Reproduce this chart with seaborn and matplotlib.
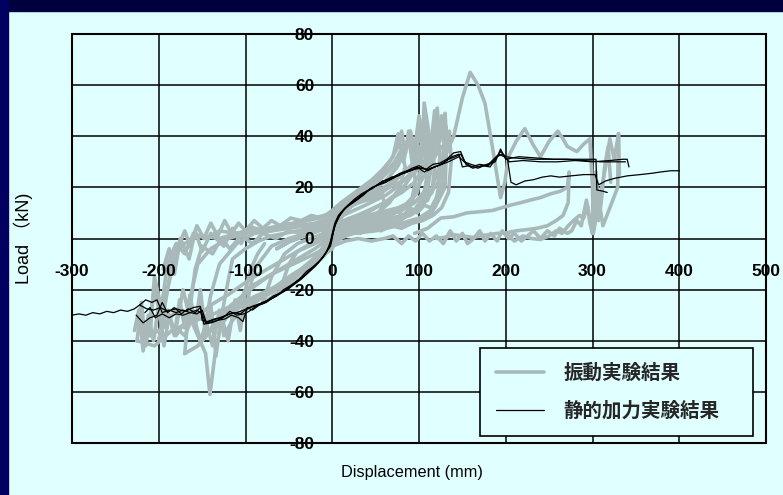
import numpy as np
import pandas as pd
import seaborn as sns
import matplotlib.pyplot as plt
from matplotlib.patches import Rectangle
from matplotlib.lines import Line2D

# tick values and labels
x_ticks = [-300, -200, -100, 0, 100, 200, 300, 400, 500]
y_ticks = [-80, -60, -40, -20, 0, 20, 40, 60, 80]
legend_labels = ['振動実験結果', '静的加力実験結果']

# vibration test loops (displacement mm, load kN)
vib_a = [(-60, -20), (-50, -10), (-40, -5), (-20, -2), (0, 2), (10, 8), (20, 12), (30, 15), (40, 17),
         (55, 20), (60, 14), (50, 8), (30, 4), (10, 2), (0, -1), (-10, -5), (-20, -10), (-35, -15),
         (-50, -19), (-60, -20)]
vib_b = [(-100, -28), (-90, -12), (-70, -3), (-50, 0), (-30, 2), (-10, 4), (0, 6), (10, 10), (20, 13),
         (40, 17), (60, 20), (80, 25), (95, 30), (100, 36), (104, 28), (98, 18), (85, 12), (60, 8),
         (40, 6), (20, 4), (5, 1), (0, -2), (-10, -7), (-25, -11), (-45, -15), (-65, -20), (-85, -24),
         (-100, -28)]
vib_c = [(-150, -40), (-140, -22), (-130, -10), (-110, -2), (-90, 2), (-70, 3), (-50, 4), (-30, 5),
         (-10, 6), (0, 7), (10, 12), (25, 16), (40, 19), (55, 23), (70, 28), (85, 36), (90, 42), (95, 30),
         (100, 46), (105, 33), (112, 38), (118, 28), (115, 18), (100, 12), (80, 9), (60, 7), (40, 6),
         (20, 4), (5, 2), (0, -3), (-15, -8), (-35, -13), (-60, -18), (-85, -22), (-110, -26),
         (-130, -30), (-145, -38), (-150, -40)]
vib_d = [(-170, -45), (-165, -25), (-155, -10), (-140, -4), (-120, 0), (-100, 2), (-80, 3), (-60, 4),
         (-40, 5), (-20, 6), (0, 8), (15, 12), (30, 14), (50, 16), (65, 20), (80, 25), (92, 28),
         (100, 32), (108, 45), (113, 34), (118, 50), (122, 36), (126, 48), (130, 35), (128, 22),
         (115, 10), (95, 7), (75, 5), (50, 3), (25, 2), (5, 0), (0, -4), (-20, -9), (-45, -14),
         (-70, -20), (-95, -24), (-120, -30), (-140, -36), (-155, -42), (-170, -45)]
vib_e = [(-200, -40), (-190, -20), (-180, -5), (-170, -2), (-160, 0), (-150, 1), (-130, 0), (-110, 2),
         (-90, 3), (-60, 5), (-30, 7), (0, 9), (20, 14), (40, 18), (60, 22), (75, 28), (85, 35),
         (88, 42), (95, 30), (100, 40), (110, 32), (120, 45), (125, 30), (110, 15), (90, 10), (70, 8),
         (45, 6), (20, 4), (0, 1), (-20, -4), (-40, -8), (-60, -12), (-80, -16), (-100, -20),
         (-115, -30), (-125, -28), (-135, -45), (-141, -61), (-146, -45), (-155, -38), (-165, -30),
         (-180, -38), (-190, -28), (-200, -40)]
vib_f = [(-210, -38), (-205, -15), (-195, -30), (-185, -10), (-175, 0), (-165, -8), (-158, 3),
         (-150, -5), (-140, 2), (-125, -3), (-115, 4), (-105, -2), (-95, 5), (-80, 2), (-60, 5),
         (-40, 6), (-20, 8), (0, 10), (15, 15), (30, 18), (45, 22), (60, 27), (70, 32), (76, 41),
         (82, 30), (90, 42), (95, 35), (100, 48), (104, 38), (106, 53), (112, 40), (118, 35),
         (110, 20), (95, 14), (80, 11), (60, 9), (40, 7), (20, 5), (0, 3), (-20, -1), (-45, -6),
         (-70, -11), (-95, -16), (-120, -22), (-140, -26), (-160, -32), (-180, -28), (-195, -35),
         (-210, -38)]
vib_g = [(-225, -40), (-220, -25), (-215, -42), (-205, -20), (-198, -30), (-190, -10), (-180, -2),
         (-170, -6), (-160, 2), (-145, 0), (-130, 3), (-110, 2), (-90, 4), (-70, 3), (-50, 5),
         (-25, 5), (0, 5), (20, 8), (40, 10), (60, 14), (80, 18), (95, 22), (105, 28), (115, 33),
         (121, 51), (124, 38), (127, 45), (130, 35), (130, 49), (132, 38), (130, 20), (118, 12),
         (100, 8), (80, 6), (60, 5), (40, 4), (20, 2), (0, -2), (-20, -6), (-45, -10), (-70, -14),
         (-95, -20), (-120, -27), (-140, -30), (-165, -33), (-185, -36), (-205, -42), (-225, -40)]
vib_h = [(95, 18), (105, 24), (115, 30), (125, 36), (132, 34), (140, 40), (150, 55), (159, 65),
         (168, 60), (176, 53), (185, 35), (194, 16), (199, 22), (203, 32), (212, 38), (222, 43),
         (231, 37), (240, 32), (250, 38), (260, 42), (266, 39), (271, 36), (282, 34), (290, 37),
         (297, 39), (300, 20), (301, 2), (305, 10), (309, 17), (315, 28), (320, 39), (325, 31),
         (330, 41), (331, 25)]
vib_i = [(330, 41), (329, 20), (320, 12), (312, 5), (305, 20), (300, 2), (293, 15), (287, 5), (282, 7),
         (276, 3), (271, 2), (262, 4), (256, 1), (248, 3), (240, 0), (232, 3), (225, 1), (218, -1),
         (210, 2), (203, 0), (196, 3), (190, -1), (183, 2), (176, -1), (170, 3), (163, 0), (156, -2),
         (150, 2), (143, -1), (136, 3), (128, -2), (120, 1), (112, -1), (104, 2), (96, -1), (88, 1),
         (80, -2), (70, 1), (60, 0), (45, -1), (30, 0), (15, -1), (0, -3), (-15, -8), (-30, -12)]
vib_j = [(95, 2), (110, 4), (125, 8), (140, 8.5), (155, 10), (171, 10.5), (185, 11), (195, 12),
         (205, 13), (217, 14), (228, 15), (240, 16), (252, 17.5), (263, 18.5), (271, 20), (273, 26),
         (272, 14), (266, 9), (258, 7), (248, 5), (236, 4), (225, 3.5), (212, 3), (202, 2.3),
         (190, 2), (180, 1.5), (170, 1), (163, 0.4), (150, 1), (140, 1.5), (130, 0.5), (120, 0)]
vib_k = [(200, 2), (210, -1), (220, 1), (230, 0), (240, -0.4), (250, 1), (258, 3), (265, 2), (272, 5),
         (278, 7), (285, 9), (290, 8), (294, 13), (297, 6), (300, 2), (301, 18), (304, 26), (307, 7),
         (310, 14), (314, 28), (318, 36), (321, 22)]
vib_l = [(-180, -35), (-172, -20), (-165, -30), (-158, -12), (-150, -3), (-138, -6), (-128, 0),
         (-118, -4), (-105, 1), (-92, -2), (-80, 2), (-65, 0), (-50, 3), (-35, 2), (-20, 4), (-8, 3),
         (0, 5), (12, 9), (25, 11), (38, 13), (50, 15), (62, 17), (74, 20), (86, 24), (96, 28),
         (104, 33), (108, 40), (112, 30), (110, 18), (102, 12), (90, 9), (75, 8), (60, 6), (45, 5),
         (30, 3), (15, 1), (0, -1), (-12, -6), (-26, -10), (-40, -14), (-55, -17), (-70, -21),
         (-85, -24), (-100, -27), (-115, -32), (-125, -38), (-130, -28), (-138, -42), (-145, -33),
         (-152, -40), (-160, -30), (-170, -38), (-180, -35)]
vib_m = [(-130, -35), (-122, -20), (-115, -8), (-100, -4), (-85, -1), (-70, 1), (-55, 2), (-40, 3),
         (-25, 4), (-10, 4), (0, 5), (10, 6), (22, 8), (35, 10), (48, 12), (60, 14), (72, 17), (82, 20),
         (92, 25), (100, 28), (106, 35), (110, 26), (105, 16), (92, 10), (78, 7), (62, 5), (46, 4),
         (30, 3), (14, 2), (0, 0), (-10, -4), (-22, -8), (-36, -12), (-50, -15), (-66, -19),
         (-82, -22), (-98, -25), (-112, -28), (-122, -31), (-130, -35)]
vib_n = [(-80, -25), (-70, -15), (-55, -6), (-40, -2), (-25, 0), (-10, 2), (0, 4), (8, 9), (18, 13),
         (28, 17), (38, 20), (50, 23), (62, 26), (72, 30), (80, 35), (84, 28), (78, 20), (66, 14),
         (52, 10), (38, 7), (24, 5), (10, 3), (0, 1), (-10, -3), (-20, -8), (-32, -12), (-45, -16),
         (-58, -20), (-70, -23), (-80, -25)]
vib_o = [(-195, -12), (-188, -4), (-182, -14), (-176, -2), (-170, 3), (-164, -3), (-156, 5), (-148, 0),
         (-140, 6), (-132, 1), (-124, 7), (-116, 2), (-108, 6), (-100, 3), (-90, 7), (-80, 4), (-70, 7),
         (-60, 5), (-48, 8), (-36, 7), (-24, 9), (-12, 8), (0, 11), (10, 14), (22, 17), (34, 20),
         (46, 23), (58, 27), (68, 31), (76, 36), (80, 42), (84, 33), (88, 40), (92, 30), (96, 22),
         (92, 16), (84, 13), (70, 11), (55, 9), (40, 8), (25, 7), (10, 5), (0, 4)]
vib_p = [(-228, -36), (-223, -28), (-218, -44), (-212, -30), (-206, -40), (-200, -26), (-194, -42),
         (-188, -30), (-182, -38), (-176, -24), (-170, -35), (-164, -22), (-158, -34), (-152, -20),
         (-146, -38), (-140, -26), (-134, -46), (-128, -30), (-120, -40), (-112, -24), (-106, -36),
         (-100, -20), (-94, -12), (-86, -6), (-78, -2)]
vib_q = [(0, 3), (10, 5), (18, 4), (26, 7), (34, 6), (42, 8), (50, 7), (58, 10), (66, 8), (74, 11),
         (82, 9), (90, 12), (98, 10), (106, 13), (114, 12), (120, 16), (124, 22), (127, 30), (129, 38),
         (131, 44), (133, 34), (135, 42), (137, 30), (134, 18), (126, 12), (116, 9), (104, 7), (92, 6),
         (80, 4), (68, 5), (56, 3), (44, 4), (32, 2), (20, 3), (8, 1), (0, 0)]
vib_r = [(-64, -4), (-48, -1), (-32, 1), (-16, 3), (0, 6), (12, 10), (24, 13), (36, 15), (48, 17),
         (60, 19), (72, 21), (84, 23), (96, 26), (106, 30), (112, 36), (116, 28), (120, 40), (124, 32),
         (122, 22), (112, 17), (100, 15), (88, 14), (76, 12), (64, 11), (52, 10), (40, 9), (28, 8),
         (16, 7), (0, 5), (-16, 3), (-32, 1), (-48, -1), (-64, -4)]

# static loading test curves
sta_a = [(-300, -30), (-292, -29.5), (-284, -30), (-276, -29), (-268, -29.5), (-260, -28.5), (-252, -29),
         (-244, -28), (-236, -28.5), (-228, -27.5), (-222, -26), (-214, -27.5), (-206, -28), (-198, -27),
         (-190, -28.5), (-180, -27.5), (-170, -28.5), (-160, -27), (-152, -26.5), (-150, -32),
         (-144, -32.5), (-136, -31.5), (-128, -31), (-118, -29.5), (-110, -29), (-102, -28), (-96, -27),
         (-88, -26.5), (-80, -25), (-70, -23.5), (-62, -22), (-52, -20), (-44, -18), (-36, -16),
         (-28, -13.5), (-20, -11), (-12, -8), (-6, -5), (-2, -3), (0, 0), (2, 4), (5, 7), (10, 10),
         (16, 12), (22, 14), (30, 16), (38, 18), (46, 20), (54, 21), (62, 22), (70, 23.5), (78, 25),
         (86, 26), (94, 27), (102, 27.5), (110, 27), (118, 28), (126, 29), (134, 30), (140, 31),
         (146, 32), (152, 30), (160, 29), (170, 28), (180, 29), (186, 31), (192, 33), (198, 32),
         (202, 31), (206, 22), (212, 21), (222, 22.5), (232, 23), (242, 24), (252, 24.5), (262, 24),
         (275, 24.5), (290, 25), (303, 25), (307, 21), (315, 22.5), (325, 23.5), (340, 24.5),
         (355, 25), (368, 25.5), (378, 26), (390, 26.5), (400, 26.5)]
sta_b = [(-226, -30), (-218, -33), (-210, -31), (-202, -30), (-196, -25), (-190, -29), (-182, -27),
         (-174, -29.5), (-166, -27.5), (-158, -29), (-152, -27), (-148, -33.5), (-140, -33),
         (-132, -32), (-124, -31.5), (-116, -30), (-108, -31), (-103, -32.5), (-98, -27), (-92, -28),
         (-84, -26), (-76, -25), (-68, -23), (-60, -21.5), (-50, -19.5), (-42, -17), (-34, -15),
         (-26, -12.5), (-18, -10), (-10, -7), (-5, -4), (-2, -1), (0, 2), (3, 6), (7, 9), (12, 11),
         (18, 13), (26, 15.5), (34, 17.5), (42, 19), (50, 20.5), (58, 22.5), (66, 23), (74, 24.5),
         (82, 25.5), (90, 26.5), (98, 28), (106, 26), (114, 27.5), (122, 28.5), (130, 30), (138, 32),
         (146, 33), (150, 28), (158, 28.5), (168, 27.5), (178, 29), (188, 30), (194, 35), (200, 31),
         (215, 32), (235, 31.5), (255, 31), (275, 31), (295, 31), (304, 31), (305, 19), (312, 18.5),
         (317, 18)]
sta_c = [(-222, -26), (-215, -24), (-208, -25), (-202, -24), (-196, -29), (-188, -28), (-180, -29),
         (-172, -28), (-164, -29), (-156, -28), (-150, -29.5), (-146, -33), (-138, -32), (-130, -31),
         (-122, -30), (-114, -29), (-106, -29.5), (-100, -28), (-92, -26.5), (-84, -25.5),
         (-76, -24.5), (-68, -22.5), (-58, -21), (-48, -18.5), (-40, -16.5), (-32, -14.5), (-24, -12),
         (-16, -9.5), (-8, -6), (-3, -3), (0, 1), (3, 5), (8, 8.5), (14, 11.5), (20, 13.5), (28, 15),
         (36, 17), (44, 19.5), (52, 21), (60, 22), (68, 24), (76, 24.5), (84, 26), (92, 27.5),
         (100, 28.5), (108, 27), (116, 29), (124, 29.5), (132, 31), (140, 33.5), (148, 34), (154, 29),
         (162, 27.5), (172, 28.5), (182, 28), (190, 32), (196, 33), (204, 30), (220, 30.5), (240, 30),
         (260, 30), (280, 30.5), (300, 30), (320, 30.5), (335, 31), (340, 31), (342, 28)]
sta_d = [(-216, -29), (-210, -27), (-204, -31), (-196, -29.5), (-188, -31), (-180, -29.5), (-172, -30),
         (-164, -29), (-156, -29.5), (-150, -28), (-145, -33), (-136, -32.5), (-126, -31),
         (-118, -28.5), (-110, -30), (-102, -29.5), (-96, -28.5), (-88, -26.5), (-80, -25.5),
         (-72, -24), (-64, -22.5), (-56, -20), (-46, -18), (-38, -16), (-30, -13), (-22, -11),
         (-14, -8.5), (-7, -5.5), (-2, -2), (0, 1), (4, 6), (9, 9.5), (15, 12), (22, 13.5), (30, 15.5),
         (38, 18), (46, 19.5), (54, 21.5), (62, 23), (70, 24), (78, 25.5), (86, 26.5), (94, 27),
         (102, 28), (110, 26.5), (118, 28), (126, 29), (134, 31), (142, 32), (148, 33), (153, 30),
         (160, 28), (170, 29), (180, 28.5), (188, 31), (194, 34), (200, 32), (210, 31.5), (230, 31),
         (250, 31), (270, 31), (290, 30.5), (310, 30), (325, 30), (338, 30)]

GRAY = '#a9b9b9'
CYAN = '#e0ffff'
NAVY = '#00003f'


def to_frame(runs):
    parts = []
    for i, pts in enumerate(runs):
        d = pd.DataFrame(pts, columns=['disp', 'load'])
        d['run'] = i
        parts.append(d)
    return pd.concat(parts, ignore_index=True)


vib = to_frame([vib_a, vib_b, vib_c, vib_d, vib_e, vib_f, vib_g, vib_h, vib_i, vib_j, vib_k,
                vib_l, vib_m, vib_n, vib_o, vib_p, vib_q, vib_r])
sta = to_frame([sta_a, sta_b, sta_c, sta_d])

sns.set_theme(style='white')
plt.rcParams['font.family'] = ['Liberation Sans', 'Noto Sans CJK JP', 'DejaVu Sans']
plt.rcParams['axes.unicode_minus'] = False

fig = plt.figure(figsize=(7.83, 4.95), dpi=100, facecolor=CYAN)
ax = fig.add_axes([72 / 783, 1 - 443 / 495, 694 / 783, 409 / 495])
ax.set_facecolor(CYAN)

# navy frame of the slide
fig.patches.append(Rectangle((0, 1 - 11 / 495), 1, 11 / 495, transform=fig.transFigure,
                             color=NAVY, zorder=-1))
fig.patches.append(Rectangle((0, 0), 8 / 783, 1, transform=fig.transFigure,
                             color='#000060', zorder=-1))

# grid drawn below the data, tick labels above it
for xv in x_ticks:
    ax.axvline(xv, color='black', lw=1.1, zorder=1)
for yv in y_ticks:
    ax.axhline(yv, color='black', lw=1.1, zorder=1)

sns.lineplot(data=vib, x='disp', y='load', units='run', estimator=None, sort=False,
             color=GRAY, lw=2.6, ax=ax, legend=False, zorder=3)
sns.lineplot(data=sta, x='disp', y='load', units='run', estimator=None, sort=False,
             color='black', lw=0.9, ax=ax, legend=False, zorder=4)

ax.set_xlim(-300, 500)
ax.set_ylim(-80, 80)
ax.set_xticks(x_ticks)
ax.set_yticks(y_ticks)
ax.grid(False)

ax.spines['left'].set_position(('data', 0))
ax.spines['bottom'].set_position(('data', 0))
for s in ['top', 'right', 'left', 'bottom']:
    ax.spines[s].set_visible(False)
ax.add_patch(Rectangle((0, 0), 1, 1, transform=ax.transAxes, fill=False, ec='black',
                       lw=1.5, clip_on=False, zorder=5))
ax.xaxis.set_zorder(7)
ax.yaxis.set_zorder(7)

ax.tick_params(axis='x', length=0, pad=18, labelsize=12.5, colors='black')
ax.tick_params(axis='y', length=0, pad=13, labelsize=12.5, colors='black')
for lab in ax.get_xticklabels() + ax.get_yticklabels():
    lab.set_fontweight('bold')

ax.set_xlabel('Displacement (mm)', fontsize=11.7, color='black')
ax.set_ylabel('Load （kN)', fontsize=13, color='black')
ax.xaxis.set_label_coords(0.49, -0.054)
ax.yaxis.set_label_coords(-0.056, 0.5)

handles = [Line2D([], [], color=GRAY, lw=2.6), Line2D([], [], color='black', lw=0.9)]
leg = ax.legend(handles, legend_labels, loc='lower left', bbox_to_anchor=(0.588, 0.017, 0.393, 0.21),
                mode='expand', borderaxespad=0, fancybox=False, framealpha=1, facecolor=CYAN,
                edgecolor='black', handlelength=2.5, handletextpad=1.0, labelspacing=0.95,
                borderpad=0.8, prop={'family': ['Noto Sans CJK JP'], 'weight': 'bold', 'size': 14})
leg.get_frame().set_linewidth(1.2)
leg.set_zorder(8)

fig.savefig('out.png', dpi=100, facecolor=fig.get_facecolor())
